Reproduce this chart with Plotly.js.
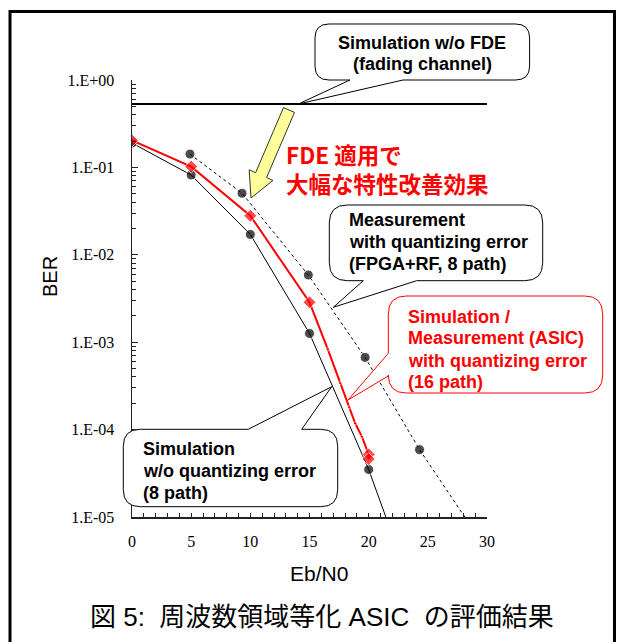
<!DOCTYPE html>
<html>
<head>
<meta charset="utf-8">
<script src="https://cdn.plot.ly/plotly-3.0.1.min.js"></script>
<style>
  html, body { margin: 0; padding: 0; background: #fff; }
  #chart { width: 619px; height: 642px; }
</style>
</head>
<body>
<div id="chart"></div>
<script>
// ---------------- data ----------------
const ebn0NoFde = [0, 30];
const berNoFde = [0.53, 0.53];

const ebn0Fpga = [4.9, 9.3, 14.9, 19.7, 24.3, 28.3];
const berFpga = [0.142, 0.0506, 0.00587, 6.7e-4, 5.9e-5, 9.2e-6];

const ebn0SimNoQ = [0, 5, 10, 15, 20, 21.6];
const berSimNoQ = [0.19, 0.0818, 0.0171, 0.00126, 3.5e-5, 8.8e-6];

const ebn0Asic = [0, 5, 10, 15, 16.55, 17.59, 18.35, 18.86, 19.43, 20, 20];
const berAsic = [0.203, 0.102, 0.028, 0.00286, 8.3e-4, 3.4e-4, 1.8e-4, 1.18e-4, 8.3e-5, 5.2e-5, 4.6e-5];
const asicMain = [true, true, true, true, false, false, false, false, false, true, true];

const yTickVals = [1, 0.1, 0.01, 0.001, 0.0001, 0.00001];
const yTickText = ['1.E+00', '1.E-01', '1.E-02', '1.E-03', '1.E-04', '1.E-05'];

// ---------------- geometry helpers (layout only) ----------------
const PL = 132, PR = 487, PT = 80, PB = 517;
const px = X => (X - PL) / (PR - PL);
const py = Y => (PB - Y) / (PB - PT);
function pathStr(cmds) {
  return cmds.map(c => {
    if (c[0] === 'Z') return 'Z';
    const pts = c.slice(1).map(p => px(p[0]).toFixed(5) + ',' + py(p[1]).toFixed(5));
    return c[0] + pts.join(' ');
  }).join(' ');
}
function bubble(x0, y0, x1, y1, r, side, a, tip, b) {
  const c = [];
  c.push(['M', [x0 + r, y0]]);
  if (side === 'top') { c.push(['L', a]); c.push(['L', tip]); c.push(['L', b]); }
  c.push(['L', [x1 - r, y0]]);
  c.push(['Q', [x1, y0], [x1, y0 + r]]);
  c.push(['L', [x1, y1 - r]]);
  c.push(['Q', [x1, y1], [x1 - r, y1]]);
  if (side === 'bottom') { c.push(['L', a]); c.push(['L', tip]); c.push(['L', b]); }
  c.push(['L', [x0 + r, y1]]);
  c.push(['Q', [x0, y1], [x0, y1 - r]]);
  if (side === 'left') { c.push(['L', a]); c.push(['L', tip]); c.push(['L', b]); }
  c.push(['L', [x0, y0 + r]]);
  c.push(['Q', [x0, y0], [x0 + r, y0]]);
  c.push(['Z']);
  return pathStr(c);
}

// minor log ticks (axis decoration)
const yMinor = [];
for (let e = -5; e < 0; e++) for (let d = 2; d <= 9; d++) yMinor.push(d * Math.pow(10, e));

const traces = [
  { x: ebn0NoFde, y: berNoFde, mode: 'lines', line: { color: '#000', width: 2 }, hoverinfo: 'skip' },
  { x: ebn0Fpga, y: berFpga, mode: 'lines+markers',
    line: { color: '#000', width: 1, dash: 'dot' },
    marker: { color: '#000', size: ebn0Fpga.map((v, i) => i < ebn0Fpga.length - 1 ? 10 : 0) } },
  { x: ebn0SimNoQ, y: berSimNoQ, mode: 'lines+markers',
    line: { color: '#000', width: 1 },
    marker: { color: '#000', size: ebn0SimNoQ.map((v, i) => i < ebn0SimNoQ.length - 1 ? 10 : 0) } },
  { x: ebn0Asic, y: berAsic, mode: 'lines+markers',
    line: { color: '#ff0000', width: 2 },
    marker: { color: '#ff0000', symbol: 'diamond', size: asicMain.map(m => m ? 10 : 3) } }
];

const tickFont = { family: 'Liberation Serif, Times New Roman, serif', size: 16, color: '#000' };
const sans = 'Liberation Sans, Arial, sans-serif';
const cjk = 'Noto Sans CJK JP, sans-serif';

function txt(text, X, Y, opts) {
  return Object.assign({
    text: text, xref: 'paper', yref: 'paper', x: px(X), y: py(Y),
    xanchor: 'left', yanchor: 'middle', showarrow: false,
    font: { family: sans, size: 18, color: '#000', weight: 'bold' }
  }, opts || {});
}
const redFont = { family: sans, size: 18, color: '#ff0000', weight: 'bold' };
const nb = '\u00a0';

const annotations = [
  txt('Simulation w/o FDE', 422, 43.5, { xanchor: 'center' }),
  txt('(fading channel)', 422, 64.5, { xanchor: 'center' }),
  txt('Measurement', 347, 220),
  txt('with quantizing error', 347, 242.3),
  txt('(FPGA+RF, 8 path)', 347, 264),
  txt('Simulation /', 406, 316.7, { font: redFont }),
  txt('Measurement (ASIC)', 406, 338.3, { font: redFont }),
  txt('with quantizing error', 406, 360.5, { font: redFont }),
  txt('(16 path)', 406, 381.7, { font: redFont }),
  txt('Simulation', 140.5, 449),
  txt('w/o quantizing error', 140.5, 470.5),
  txt('(8 path)', 140.5, 492.5),
  txt('FDE 適用で', 284, 154, { font: { family: cjk, size: 22.5, color: '#ff0000', weight: 'bold' } }),
  txt('大幅な特性改善効果', 284, 183, { font: { family: cjk, size: 22.5, color: '#ff0000', weight: 'bold' } }),
  txt('Eb/N0', 319, 573, { xanchor: 'center', font: { family: sans, size: 21, color: '#000' } }),
  txt('BER', 50, 277, { xanchor: 'center', textangle: -90, font: { family: sans, size: 20, color: '#000' } }),
  txt('図' + nb + '5:' + nb + nb + '周波数領域等化' + nb + 'ASIC' + nb + nb + 'の評価結果', 322, 617,
      { xanchor: 'center', font: { family: 'Liberation Sans, Noto Sans CJK JP, sans-serif', size: 26, color: '#000' } })
];

const arrowPath = pathStr([
  ['M', [283.5, 107.6]], ['L', [294.5, 112.4]], ['L', [266.6, 177.5]], ['L', [273, 180.4]],
  ['L', [251, 198]], ['L', [249.2, 169.8]], ['L', [255.6, 172.7]], ['Z']
]);

const shapes = [
  { type: 'rect', xref: 'paper', yref: 'paper', x0: px(10), x1: px(614.5), y0: py(11.5), y1: py(680),
    line: { color: '#000', width: 3 }, fillcolor: 'rgba(0,0,0,0)', layer: 'below' },
  { type: 'path', xref: 'paper', yref: 'paper', layer: 'above',
    path: bubble(315, 24, 529.6, 80, 14, 'bottom', [403, 80], [298.4, 104], [350, 80]),
    line: { color: '#000', width: 1 }, fillcolor: '#fff' },
  { type: 'path', xref: 'paper', yref: 'paper', layer: 'above',
    path: bubble(329.3, 205, 542.7, 280.7, 18, 'bottom', [416.7, 280.7], [333.3, 307.3], [363.3, 280.7]),
    line: { color: '#000', width: 1 }, fillcolor: '#fff' },
  { type: 'path', xref: 'paper', yref: 'paper', layer: 'above',
    path: bubble(388.3, 296, 602.7, 393, 18, 'left', [388.3, 376], [348, 400], [388.3, 353.3]),
    line: { color: '#ff0000', width: 1 }, fillcolor: '#fff' },
  { type: 'path', xref: 'paper', yref: 'paper', layer: 'above',
    path: bubble(123.3, 429.3, 337.7, 506.7, 17, 'top', [248.3, 429.3], [331.7, 386.7], [301.7, 429.3]),
    line: { color: '#000', width: 1 }, fillcolor: '#fff' },
  { type: 'path', xref: 'paper', yref: 'paper', layer: 'above', path: arrowPath,
    line: { color: '#333', width: 1 }, fillcolor: '#ffff99' }
];

const layout = {
  width: 619, height: 642,
  margin: { l: PL, r: 619 - PR, t: PT, b: 642 - PB, pad: 0 },
  paper_bgcolor: '#fff', plot_bgcolor: '#fff',
  showlegend: false,
  xaxis: {
    range: [0, 30], showgrid: false, zeroline: false,
    showline: true, linecolor: '#222', linewidth: 1.5,
    ticks: 'inside', ticklen: 4, tickcolor: '#222', tickwidth: 1,
    tick0: 0, dtick: 5, tickfont: tickFont, ticklabelstandoff: 9,
    minor: { dtick: 1, ticks: 'inside', ticklen: 4, tickcolor: '#222', tickwidth: 1, showgrid: false }
  },
  yaxis: {
    type: 'log', range: [-5, 0], showgrid: false, zeroline: false,
    showline: true, linecolor: '#222', linewidth: 1.5,
    ticks: 'inside', ticklen: 6, tickcolor: '#222', tickwidth: 1,
    tickmode: 'array', tickvals: yTickVals, ticktext: yTickText,
    tickfont: tickFont, ticklabelstandoff: 13,
    minor: { tickmode: 'array', tickvals: yMinor, ticks: 'inside', ticklen: 4, tickcolor: '#222', tickwidth: 1, showgrid: false }
  },
  shapes: shapes,
  annotations: annotations
};

Plotly.newPlot('chart', traces, layout, { displayModeBar: false, staticPlot: true });
</script>
</body>
</html>
